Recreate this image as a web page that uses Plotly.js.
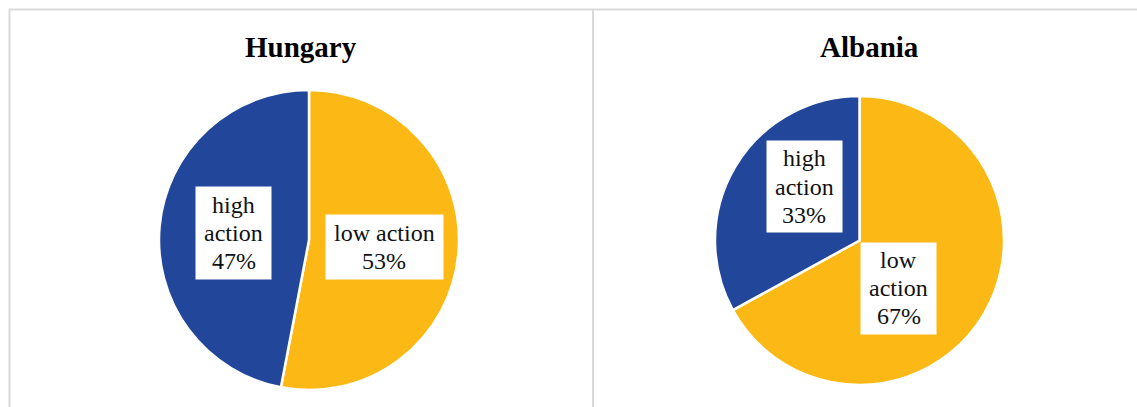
<!DOCTYPE html>
<html>
<head>
<meta charset="utf-8">
<script src="https://cdn.plot.ly/plotly-3.0.1.min.js"></script>
<style>html,body{margin:0;padding:0;background:#fff;}#chart{width:1137px;height:407px;}</style>
</head>
<body>
<div id="chart"></div>
<script>
// Data
const countries = ["Hungary", "Albania"];
const categories = ["low action", "high action"];
const hungaryValues = [53, 47];
const albaniaValues = [67, 33];
const categoryColors = ["#FCB915", "#21469A"];

const W = 1137, H = 407;
const px = x => x / W;
const py = y => 1 - y / H;

function pieTrace(values, cx, cy, r) {
  return {
    type: "pie",
    labels: categories,
    values: values,
    sort: false,
    direction: "clockwise",
    rotation: 0,
    textinfo: "none",
    hoverinfo: "label+percent",
    marker: {colors: categoryColors, line: {color: "#ffffff", width: 2.5}},
    domain: {x: [px(cx - r), px(cx + r)], y: [py(cy + r), py(cy - r)]},
    showlegend: false
  };
}

const traces = [
  pieTrace(hungaryValues, 309, 240, 150),
  pieTrace(albaniaValues, 859.5, 240.5, 144.5)
];

function pct(values, i) {
  const tot = values.reduce((a, b) => a + b, 0);
  return Math.round(values[i] / tot * 100) + "%";
}

const labelFont = {family: "Liberation Serif", size: 24, color: "#111111"};
const LINE = 28.3;
function label(lines, cx, cy, w, h) {
  const out = [{
    xref: "paper", yref: "paper", x: px(cx), y: py(cy),
    xanchor: "center", yanchor: "middle",
    text: " ", showarrow: false, font: labelFont,
    bgcolor: "#ffffff", width: w, height: h, borderpad: 0
  }];
  lines.forEach((t, i) => {
    out.push({
      xref: "paper", yref: "paper", x: px(cx), y: py(cy + (i - (lines.length - 1) / 2) * LINE),
      xanchor: "center", yanchor: "middle",
      text: t, showarrow: false, font: labelFont
    });
  });
  return out;
}

const titleFont = {family: "Liberation Serif", size: 29, color: "#000000", weight: "bold"};
const annotations = [
  {xref: "paper", yref: "paper", x: px(300.5), y: py(47), xanchor: "center", yanchor: "middle",
   text: "<b>" + countries[0] + "</b>", showarrow: false, font: titleFont},
  {xref: "paper", yref: "paper", x: px(869.5), y: py(47), xanchor: "center", yanchor: "middle",
   text: "<b>" + countries[1] + "</b>", showarrow: false, font: titleFont},
  ...label(["high", "action", pct(hungaryValues, 1)], 233.5, 233, 75, 92),
  ...label([categories[0], pct(hungaryValues, 0)], 384, 247, 117, 64),
  ...label(["high", "action", pct(albaniaValues, 1)], 804, 186.5, 75, 91),
  ...label(["low", "action", pct(albaniaValues, 0)], 898.5, 288, 75, 91)
];

const lineStyle = {color: "#d9d9d9", width: 2};
const shapes = [
  {type: "line", xref: "paper", yref: "paper", x0: px(9), x1: 1, y0: py(9.5), y1: py(9.5), line: lineStyle},
  {type: "line", xref: "paper", yref: "paper", x0: px(9.5), x1: px(9.5), y0: py(9.5), y1: 0, line: lineStyle},
  {type: "line", xref: "paper", yref: "paper", x0: px(593), x1: px(593), y0: py(9.5), y1: 0, line: lineStyle}
];

Plotly.newPlot("chart", traces, {
  width: W, height: H,
  margin: {l: 0, r: 0, t: 0, b: 0},
  paper_bgcolor: "#ffffff",
  annotations: annotations,
  shapes: shapes
}, {displayModeBar: false, staticPlot: true});
</script>
</body>
</html>
